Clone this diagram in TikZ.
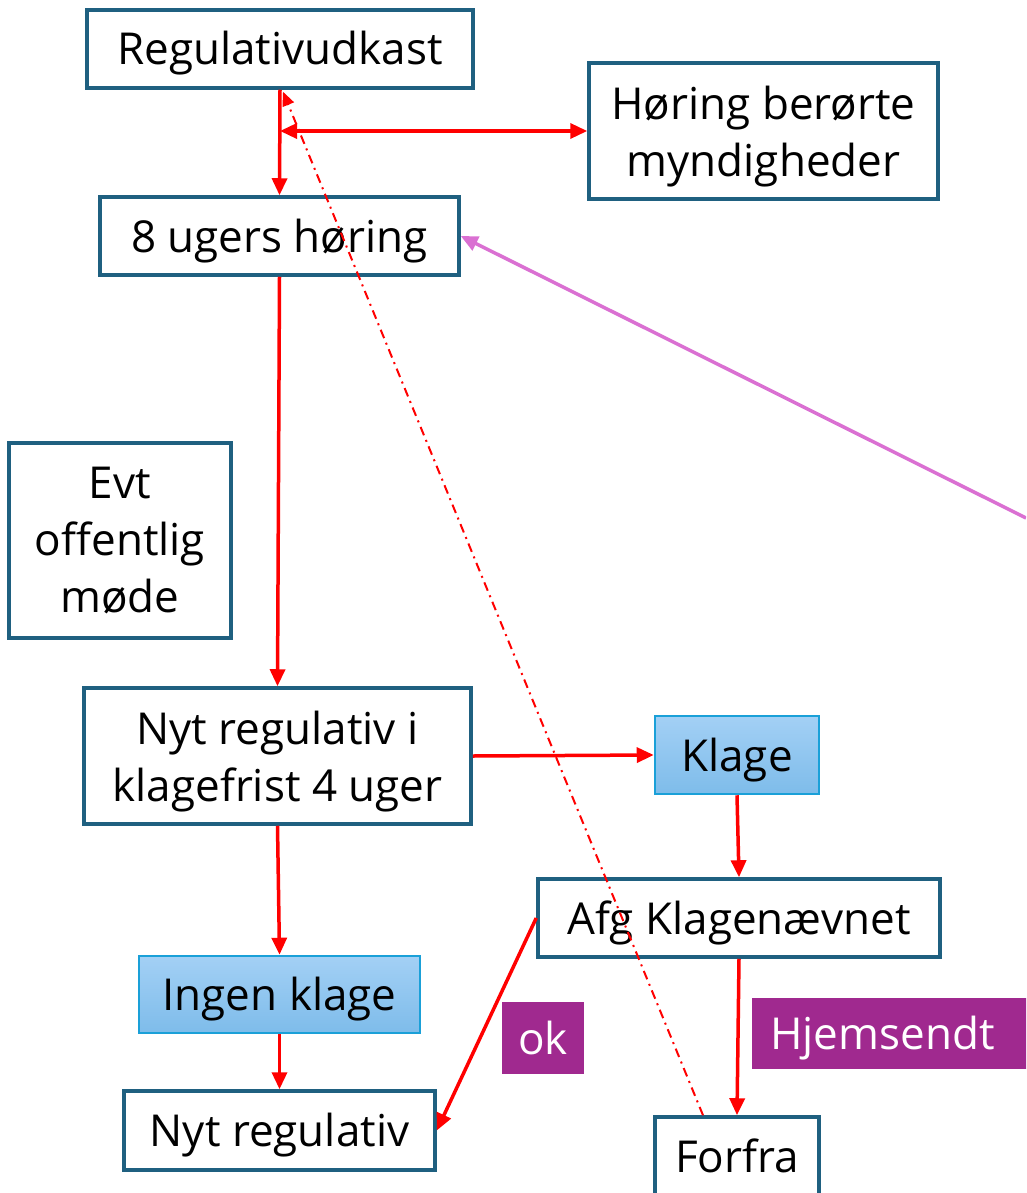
\documentclass[tikz,border=0pt]{standalone}
\usepackage{fontspec}
\setmainfont{Open Sans}
\usetikzlibrary{arrows.meta,calc}
\definecolor{boxblue}{RGB}{31,96,128}
\definecolor{lblue}{RGB}{26,160,216}
\definecolor{gtop}{RGB}{163,208,245}
\definecolor{gbot}{RGB}{126,188,234}
\definecolor{tagpurple}{RGB}{160,41,143}
\definecolor{pinkline}{RGB}{218,112,210}
\tikzset{
  txt/.style={font=\fontsize{44pt}{57pt}\selectfont, align=center, inner sep=0pt},
  oneline/.style={text height=38pt, text depth=6pt},
  box/.style={txt, draw=boxblue, line width=3.5pt, fill=white},
  gbox/.style={txt, oneline, draw=lblue, line width=2.5pt, top color=gtop, bottom color=gbot},
  tag/.style={txt, oneline, fill=tagpurple, text=white},
  arr/.style={red, line width=3.5pt, -{Triangle[length=17pt,width=15pt]}},
  darr/.style={red, line width=3.5pt, {Triangle[length=17pt,width=15pt]}-{Triangle[length=17pt,width=15pt]}},
  dd/.style={red, line width=2pt, dash pattern=on 9pt off 5pt on 2pt off 5pt, -{Triangle[length=14pt,width=12pt]}},
  pinkarr/.style={pinkline, line width=3.5pt, -{Triangle[length=17pt,width=15pt]}}
}
\begin{document}
\begin{tikzpicture}[x=1pt,y=-1pt]
\useasboundingbox (0,0) rectangle (1026,1193);
\clip (0,0) rectangle (1026,1193);

\node[box, oneline, minimum width=386pt, minimum height=78pt] (reg) at (280,49) {Regulativudkast};
\node[box, text depth=0pt, minimum width=349pt, minimum height=136pt] (hor) at (763.5,131) {Høring berørte\\myndigheder};
\node[box, oneline, minimum width=359pt, minimum height=78pt] (uger) at (279.5,236) {8 ugers høring};
\node[box, minimum width=222pt, minimum height=195pt] (evt) at (120,540.5) {Evt\\offentlig\\møde};
\node[box, text depth=0pt, minimum width=387pt, minimum height=136pt] (nyi) at (277.5,756) {Nyt regulativ i\\klagefrist 4 uger};
\node[gbox, minimum width=164pt, minimum height=78pt] (klage) at (737,755) {Klage};
\node[box, oneline, minimum width=402pt, minimum height=78pt] (afg) at (739,918) {Afg Klagenævnet};
\node[gbox, minimum width=281pt, minimum height=77pt] (ingen) at (279.5,994.5) {Ingen klage};
\node[box, oneline, minimum width=311pt, minimum height=79pt] (nyt) at (279.5,1130.5) {Nyt regulativ};
\node[box, oneline, minimum width=164pt, minimum height=78pt] (forfra) at (737,1156) {Forfra};
\node[tag, minimum width=82pt, minimum height=72pt] (ok) at (543,1038) {ok};
\node[tag, anchor=west, minimum height=71pt, text width=260pt, align=left, inner xsep=18pt] (hjem) at (752,1033.5) {Hjemsendt};

\coordinate (pinkstart) at (1026,518);

\draw[dd] ([xshift=-34pt]forfra.north) -- ([xshift=3pt,yshift=-2pt]reg.south);
\draw[arr] (reg.south) -- (uger.north);
\draw[darr] (hor.west -| reg.south) -- (hor.west);
\draw[arr] (uger.south) -- (nyi.north);
\draw[arr] (nyi.east) -- (klage.west);
\draw[arr] (klage.south) -- (afg.north);
\draw[arr] (nyi.south) -- (ingen.north);
\draw[arr] (ingen.south) -- (nyt.north);
\draw[arr] (afg.west) -- (nyt.east);
\draw[arr] (afg.south) -- (forfra.north);
\draw[pinkarr] (pinkstart) -- (uger.east);
\end{tikzpicture}
\end{document}
